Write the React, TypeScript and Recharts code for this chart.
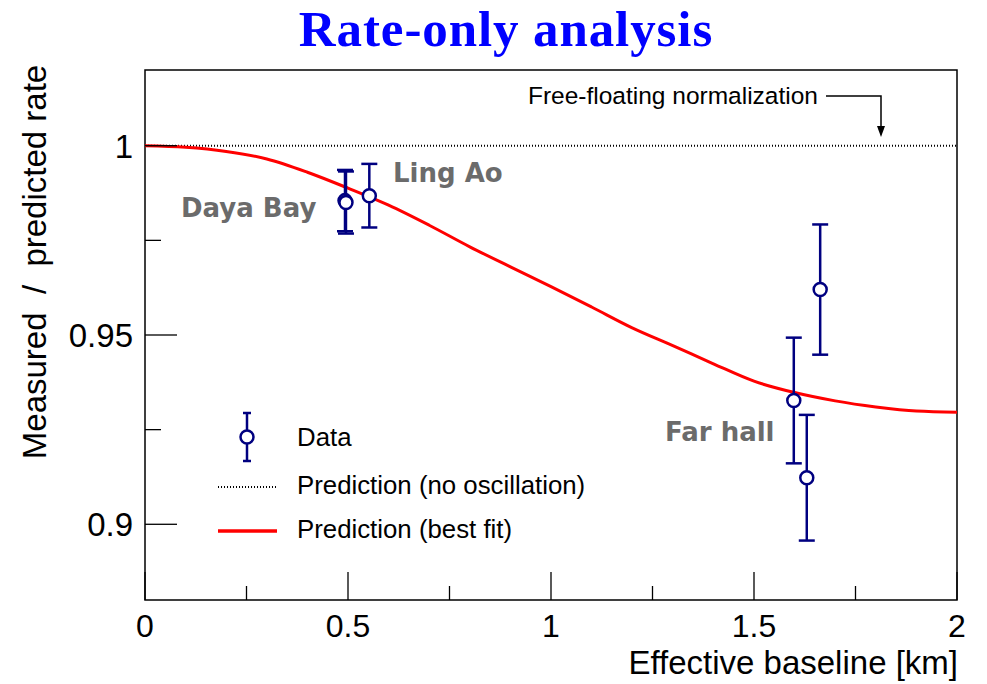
import React from 'react';
import {
  ComposedChart,
  Line,
  Scatter,
  ErrorBar,
  XAxis,
  YAxis,
  ReferenceLine,
  ReferenceArea,
  Customized,
} from 'recharts';

// Best-fit survival prediction along the effective baseline
const baselineKm = [0, 0.1, 0.2, 0.3, 0.4, 0.5, 0.6, 0.7, 0.8, 0.9, 1.0, 1.1, 1.2, 1.3, 1.4, 1.5, 1.6, 1.7, 1.8, 1.9, 2.0];
const bestFitRatio = [
  1.0, 0.9996, 0.9985, 0.9965, 0.993, 0.9888, 0.9843, 0.979, 0.9733, 0.968, 0.9628, 0.9574, 0.9519, 0.9472,
  0.9424, 0.9378, 0.9348, 0.9326, 0.931, 0.9299, 0.9296,
];

// Measured / predicted rate per detector
const detectorBaseline = [0.4926, 0.495, 0.5525, 1.598, 1.63, 1.663];
const detectorRatio = [0.9855, 0.985, 0.9868, 0.9327, 0.9123, 0.962];
const detectorError = [0.0081, 0.0082, 0.0084, 0.0166, 0.0166, 0.0172];

// Axes
const xDomain: [number, number] = [0, 2];
const yDomain: [number, number] = [0.88, 1.02];
const xTicks = [0, 0.25, 0.5, 0.75, 1, 1.25, 1.5, 1.75, 2];
const xMajor = [0, 0.5, 1, 1.5, 2];
const yTicks = [0.9, 0.925, 0.95, 0.975, 1];
const yMajor = [0.9, 0.95, 1];

const curveData = baselineKm.map((x, i) => ({ x, y: bestFitRatio[i] }));
const pointData = detectorBaseline.map((x, i) => ({ x, y: detectorRatio[i], err: detectorError[i] }));

const SANS = '"Liberation Sans", Arial, sans-serif';
const BOLD_SANS = '"DejaVu Sans", sans-serif';
const NAVY = '#000080';
const RED = '#ff0000';
const GREY = '#6b6b6b';

const XTick = (props: any) => {
  const { x, y, payload } = props;
  const v = payload.value as number;
  const major = xMajor.includes(v);
  return (
    <g>
      <line x1={x} x2={x} y1={y} y2={y - (major ? 28 : 14)} stroke="#000" strokeWidth={1.3} />
      {major && (
        <text x={x} y={y + 37} textAnchor="middle" fontSize={32} fontFamily={SANS} fill="#000">
          {String(v)}
        </text>
      )}
    </g>
  );
};

const YTick = (props: any) => {
  const { x, y, payload } = props;
  const v = payload.value as number;
  const major = yMajor.includes(v);
  return (
    <g>
      <line x1={x} x2={x + (major ? 32 : 16)} y1={y} y2={y} stroke="#000" strokeWidth={1.3} />
      {major && (
        <text x={x - 12} y={y + 12} textAnchor="end" fontSize={33} fontFamily={SANS} fill="#000">
          {String(v)}
        </text>
      )}
    </g>
  );
};

const Marker = (props: any) => {
  const { cx, cy } = props;
  return <circle cx={cx} cy={cy} r={6.5} fill="#fff" stroke={NAVY} strokeWidth={2.5} />;
};

const Decorations = () => (
  <g>
    <text
      x={506}
      y={46}
      textAnchor="middle"
      fontSize={51}
      letterSpacing={0.9}
      fontWeight="bold"
      fontFamily='"Liberation Serif", serif'
      fill="#0000ff"
    >
      Rate-only analysis
    </text>
    <text
      transform="translate(46,262) rotate(-90)"
      textAnchor="middle"
      fontSize={33}
      fontFamily={SANS}
      fill="#000"
    >
      {'Measured\u00a0 /\u00a0 predicted rate'}
    </text>
    <text x={958} y={674} textAnchor="end" fontSize={33} fontFamily={SANS} fill="#000">
      Effective baseline [km]
    </text>

    {/* station labels */}
    <text x={181} y={217} fontSize={26} fontWeight="bold" fontFamily={BOLD_SANS} fill={GREY}>
      Daya Bay
    </text>
    <text x={393} y={182} fontSize={26} fontWeight="bold" fontFamily={BOLD_SANS} fill={GREY}>
      Ling Ao
    </text>
    <text x={665} y={441} fontSize={26} fontWeight="bold" fontFamily={BOLD_SANS} fill={GREY}>
      Far hall
    </text>

    {/* normalization note with arrow */}
    <text x={818} y={104} textAnchor="end" fontSize={24.5} fontFamily={SANS} fill="#000">
      Free-floating normalization
    </text>
    <polyline points="826,96 881,96 881,128" fill="none" stroke="#000" strokeWidth={1.5} />
    <polygon points="877,126 885,126 881,137" fill="#000" />

    {/* legend */}
    <line x1={247} x2={247} y1={413} y2={461} stroke={NAVY} strokeWidth={2.5} />
    <line x1={243} x2={251} y1={413} y2={413} stroke={NAVY} strokeWidth={2.5} />
    <line x1={243} x2={251} y1={461} y2={461} stroke={NAVY} strokeWidth={2.5} />
    <circle cx={247} cy={437} r={6.5} fill="#fff" stroke={NAVY} strokeWidth={2.5} />
    <text x={297} y={446} fontSize={25.8} fontFamily={SANS} fill="#000">
      Data
    </text>
    <line x1={218} x2={277} y1={487} y2={487} stroke="#000" strokeWidth={2} strokeDasharray="1 2" />
    <text x={297} y={494} fontSize={25.8} fontFamily={SANS} fill="#000">
      Prediction (no oscillation)
    </text>
    <line x1={218} x2={277} y1={531} y2={531} stroke={RED} strokeWidth={3.5} />
    <text x={297} y={538} fontSize={25.8} fontFamily={SANS} fill="#000">
      Prediction (best fit)
    </text>
  </g>
);

export default function App() {
  return (
    <div style={{ position: 'absolute', left: 0, top: 0, background: '#fff' }}>
      <ComposedChart
        width={987}
        height={684}
        data={curveData}
        margin={{ top: 70, right: 30, bottom: 0, left: 0 }}
      >
        <XAxis
          type="number"
          dataKey="x"
          domain={xDomain}
          ticks={xTicks}
          interval={0}
          allowDataOverflow
          axisLine={false}
          tickLine={false}
          tickSize={0}
          tickMargin={0}
          height={84}
          tick={<XTick />}
        />
        <YAxis
          type="number"
          domain={yDomain}
          ticks={yTicks}
          interval={0}
          allowDataOverflow
          axisLine={false}
          tickLine={false}
          tickSize={0}
          tickMargin={0}
          width={145}
          tick={<YTick />}
        />
        <ReferenceLine y={1} stroke="#000" strokeWidth={2} strokeDasharray="1 2" />
        <Line
          data={curveData}
          dataKey="y"
          type="monotone"
          stroke={RED}
          strokeWidth={3}
          dot={false}
          activeDot={false}
          isAnimationActive={false}
        />
        <Scatter data={pointData} dataKey="y" shape={<Marker />} isAnimationActive={false}>
          <ErrorBar dataKey="err" direction="y" width={8} stroke={NAVY} strokeWidth={2.5} />
        </Scatter>
        <ReferenceArea
          x1={0}
          x2={2}
          y1={0.88}
          y2={1.02}
          fill="none"
          fillOpacity={0}
          stroke="#000"
          strokeWidth={1.5}
        />
        <Customized component={Decorations} />
      </ComposedChart>
    </div>
  );
}
